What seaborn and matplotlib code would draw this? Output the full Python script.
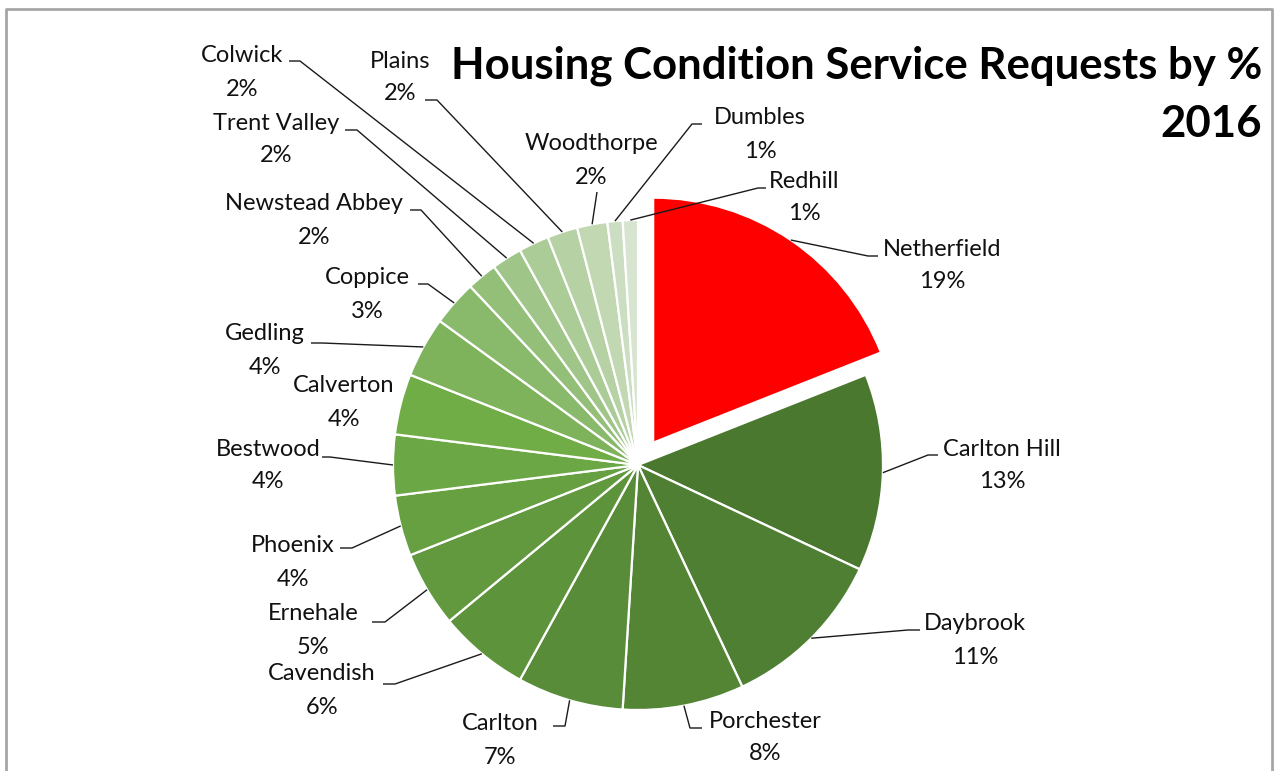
import matplotlib
matplotlib.use("Agg")
import matplotlib.pyplot as plt
import numpy as np
import seaborn as sns

# Share of housing condition service requests per ward, 2016 (%)
wards = ["Netherfield", "Carlton Hill", "Daybrook", "Porchester", "Carlton",
         "Cavendish", "Ernehale", "Phoenix", "Bestwood", "Calverton",
         "Gedling", "Coppice", "Newstead Abbey", "Trent Valley", "Colwick",
         "Plains", "Woodthorpe", "Dumbles", "Redhill"]
shares = [19, 13, 11, 8, 7, 6, 5, 4, 4, 4, 4, 3, 2, 2, 2, 2, 2, 1, 1]

title_lines = ["Housing Condition Service Requests by %", "2016"]

sns.set_theme(style="white")
plt.rcParams["font.family"] = ["Lato", "DejaVu Sans"]

W, H = 1274, 771
fig = plt.figure(figsize=(W / 100, H / 100), dpi=100)
ax = fig.add_axes([0, 0, 1, 1])

# green shades: darkest for the largest wards, fading to pale for the smallest
greens = (sns.blend_palette(["#4a782f", "#70ad47"], 9)
          + sns.blend_palette(["#7eb35c", "#d7e4d0"], 9))
colors = ["#ff0000"] + list(greens)
explode = [27] + [0] * (len(shares) - 1)   # in pixel units, pulls Netherfield out

# y axis is flipped below, so counterclock in data space reads clockwise on screen
wedges, _ = ax.pie(shares, colors=colors, explode=explode, startangle=-90,
                   counterclock=True, center=(638, 465), radius=245,
                   wedgeprops=dict(edgecolor="white", linewidth=1.6),
                   frame=True)
ax.set_xlim(0, W)
ax.set_ylim(H, 0)          # pixel-style coordinates, y grows downward
ax.set_aspect("equal")
ax.axis("off")

# label placement: (name x, name y, elbow x, elbow y, end x)
layout = [
    (942, 249, 868, 256, 878),
    (1002, 449, 928, 455, 938),
    (975, 624, 908, 630, 920),
    (765, 721, 690, 728, 702),
    (500, 724, 565, 726, 553),
    (322, 674, 395, 684, 383),
    (313, 614, 385, 622, 372),
    (293, 546, 352, 548, 340),
    (268, 449, 330, 457, 322),
    (344, 386, None, None, None),
    (265, 334, 322, 343, 311),
    (367, 278, 428, 284, 418),
    (314, 204, 421, 210, 410),
    (276, 123, 357, 130, 345),
    (242, 56, 300, 61, 289),
    (400, 61, 437, 100, 425),
    (591, 144, 597, 192, 597),
    (760, 118, 692, 124, 702),
    (804, 181, 758, 188, 766),
]

label_font = dict(fontsize=17, color="#111111", ha="center", va="center")
for w, name, share, (nx, ny, ex, ey, endx) in zip(wedges, wards, shares, layout):
    ax.text(nx, ny, name, **label_font)
    ax.text(nx, ny + 33, f"{share:g}%", **label_font)
    if ex is None:
        continue
    mid = np.deg2rad((w.theta1 + w.theta2) / 2)
    cx, cy = w.center
    r = w.r
    ax.plot([cx + r * np.cos(mid), ex, endx],
            [cy + r * np.sin(mid), ey, ey],
            color="#1a1a1a", lw=1.0, solid_capstyle="butt", zorder=1)

# title, right aligned
for text, y in zip(title_lines, [66, 124]):
    ax.text(1262, y, text, fontsize=31.5, fontweight="bold",
            ha="right", va="center", color="black")

# chart area border (open at the bottom)
ax.plot([6, 6, 1272, 1272], [H + 5, 9, 9, H + 5], color="#a6a6a6", lw=2,
        clip_on=False)

fig.savefig("out.png", dpi=100, facecolor="white")
